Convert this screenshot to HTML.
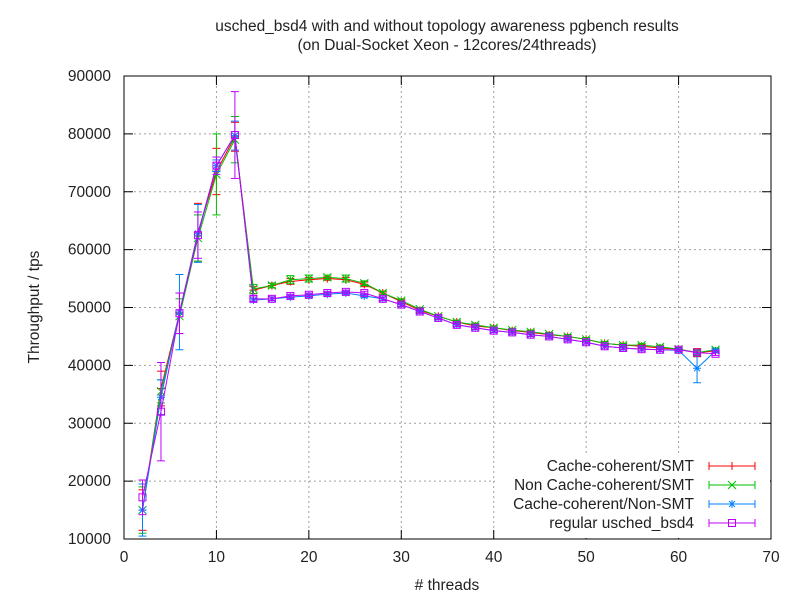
<!DOCTYPE html><html><head><style>body{margin:0;background:#fff}svg{display:block}text{font-family:"Liberation Sans",sans-serif;font-size:15.5px;fill:#222}</style></head><body>
<svg id="s" width="800" height="600" xmlns="http://www.w3.org/2000/svg"></svg>
<script>
const s=document.getElementById('s');let h='';
const X=v=>124+v*(647/70),Y=v=>539-(v-10000)*(463/80000);
for(let i=1;i<7;i++){h+=`<line x1="${X(i*10)}" y1="76" x2="${X(i*10)}" y2="539" stroke="#a0a0a0" stroke-dasharray="2,3"/>`}
for(let i=1;i<8;i++){let y=Y(10000+i*10000);h+=`<line x1="124" y1="${y}" x2="771" y2="${y}" stroke="#a0a0a0" stroke-dasharray="2,3"/>`}
for(let i=0;i<=8;i++){let y=Y(10000+i*10000);h+=`<line x1="124" y1="${y}" x2="133" y2="${y}" stroke="#000"/><line x1="771" y1="${y}" x2="762" y2="${y}" stroke="#000"/><text x="111" y="${y+5}" text-anchor="end">${10000+i*10000}</text>`}
for(let i=0;i<=7;i++){let x=X(i*10);h+=`<line x1="${x}" y1="539" x2="${x}" y2="530" stroke="#000"/><line x1="${x}" y1="76" x2="${x}" y2="85" stroke="#000"/><text x="${x}" y="562" text-anchor="middle">${i*10}</text>`}
const xs=[2,4,6,8,10,12,14,16,18,20,22,24,26,28,30,32,34,36,38,40,42,44,46,48,50,52,54,56,58,60,62,64];
const red=[15000,36000,49000,63000,73500,79500,53000,53800,54500,54800,55000,54800,54000,52500,51000,49500,48500,47500,46800,46500,46000,45700,45300,45000,44500,43800,43500,43300,43000,42800,42200,42500];
const grn=[15000,35500,48500,62000,73000,79000,53200,53800,54800,55000,55200,55000,54200,52500,51200,49700,48500,47500,47000,46500,46100,45800,45400,45000,44500,43800,43500,43500,43200,42800,42200,42700];
const blu=[15000,34500,49200,62800,74500,79700,51300,51500,51800,52000,52300,52500,52000,51500,50500,49300,48200,47000,46500,46000,45700,45300,45000,44500,44000,43300,43000,42800,42700,42600,39500,42500];
const pur=[17200,32000,49000,62500,74500,79800,51500,51500,52000,52200,52500,52700,52500,51500,50500,49300,48200,47000,46500,46000,45700,45300,45000,44500,44000,43300,43000,42800,42700,42700,42200,42000];
const err={red:[3500,3000,3500,5000,4000,2500,600,400,500,400,300,400,400,300,300,300,300,300,300,300,300,300,300,300,300,300,300,300,300,300,700,300],
grn:[4000,2000,3000,4000,7000,4000,800,400,700,600,400,600,400,300,300,300,300,300,300,300,300,300,300,300,300,300,300,300,300,300,500,300],
blu:[4500,3000,6500,5000,1000,2500,300,300,300,300,300,300,300,300,300,300,300,300,300,300,300,300,300,300,300,300,300,300,300,300,2500,300],
pur:[3000,8500,3500,4000,1500,7500,500,300,300,300,300,300,300,300,300,300,300,300,300,300,300,300,300,300,300,300,300,300,300,300,300,300]};
function ser(d,e,c,m){let p=d.map((v,i)=>X(xs[i])+','+Y(v)).join(' ');h+=`<polyline points="${p}" fill="none" stroke="${c}" stroke-width="1"/>`;
d.forEach((v,i)=>{let x=X(xs[i]),a=Y(v+e[i]),b=Y(v-e[i]);h+=`<line x1="${x}" y1="${a}" x2="${x}" y2="${b}" stroke="${c}"/><line x1="${x-4}" y1="${a}" x2="${x+4}" y2="${a}" stroke="${c}"/><line x1="${x-4}" y1="${b}" x2="${x+4}" y2="${b}" stroke="${c}"/>`;h+=mk(x,Y(v),c,m)})}
function mk(x,y,c,m){if(m==0)return `<path d="M${x-4} ${y}h8M${x} ${y-4}v8" stroke="${c}"/>`;if(m==1)return `<path d="M${x-4} ${y-4}l8 8M${x-4} ${y+4}l8 -8" stroke="${c}"/>`;if(m==2)return `<path d="M${x-4} ${y}h8M${x} ${y-4}v8M${x-3} ${y-3}l6 6M${x-3} ${y+3}l6 -6" stroke="${c}"/>`;return `<rect x="${x-3.5}" y="${y-3.5}" width="7" height="7" fill="none" stroke="${c}"/>`}
ser(red,err.red,'#ff0000',0);ser(grn,err.grn,'#00c000',1);ser(blu,err.blu,'#0080ff',2);ser(pur,err.pur,'#c000ff',3);
h+=`<rect x="495" y="455" width="275" height="83" fill="#fff"/>`;
const L=[['Cache-coherent/SMT','#ff0000',0],['Non Cache-coherent/SMT','#00c000',1],['Cache-coherent/Non-SMT','#0080ff',2],['regular usched_bsd4','#c000ff',3]];
L.forEach((l,i)=>{let y=466+i*19;h+=`<text x="694" y="${y+5}" text-anchor="end">${l[0]}</text><line x1="709" y1="${y}" x2="755" y2="${y}" stroke="${l[1]}"/><line x1="709" y1="${y-4}" x2="709" y2="${y+4}" stroke="${l[1]}"/><line x1="755" y1="${y-4}" x2="755" y2="${y+4}" stroke="${l[1]}"/>`+mk(732,y,l[1],l[2])});
h+=`<rect x="124" y="76" width="647" height="463" fill="none" stroke="#000"/>`;
h+=`<text x="447" y="31" text-anchor="middle">usched_bsd4 with and without topology awareness pgbench results</text><text x="447" y="50" text-anchor="middle">(on Dual-Socket Xeon - 12cores/24threads)</text>`;
h+=`<text x="447" y="590" text-anchor="middle"># threads</text><text transform="translate(39,307) rotate(-90)" text-anchor="middle">Throughput / tps</text>`;
s.innerHTML=h;
</script></body></html>
